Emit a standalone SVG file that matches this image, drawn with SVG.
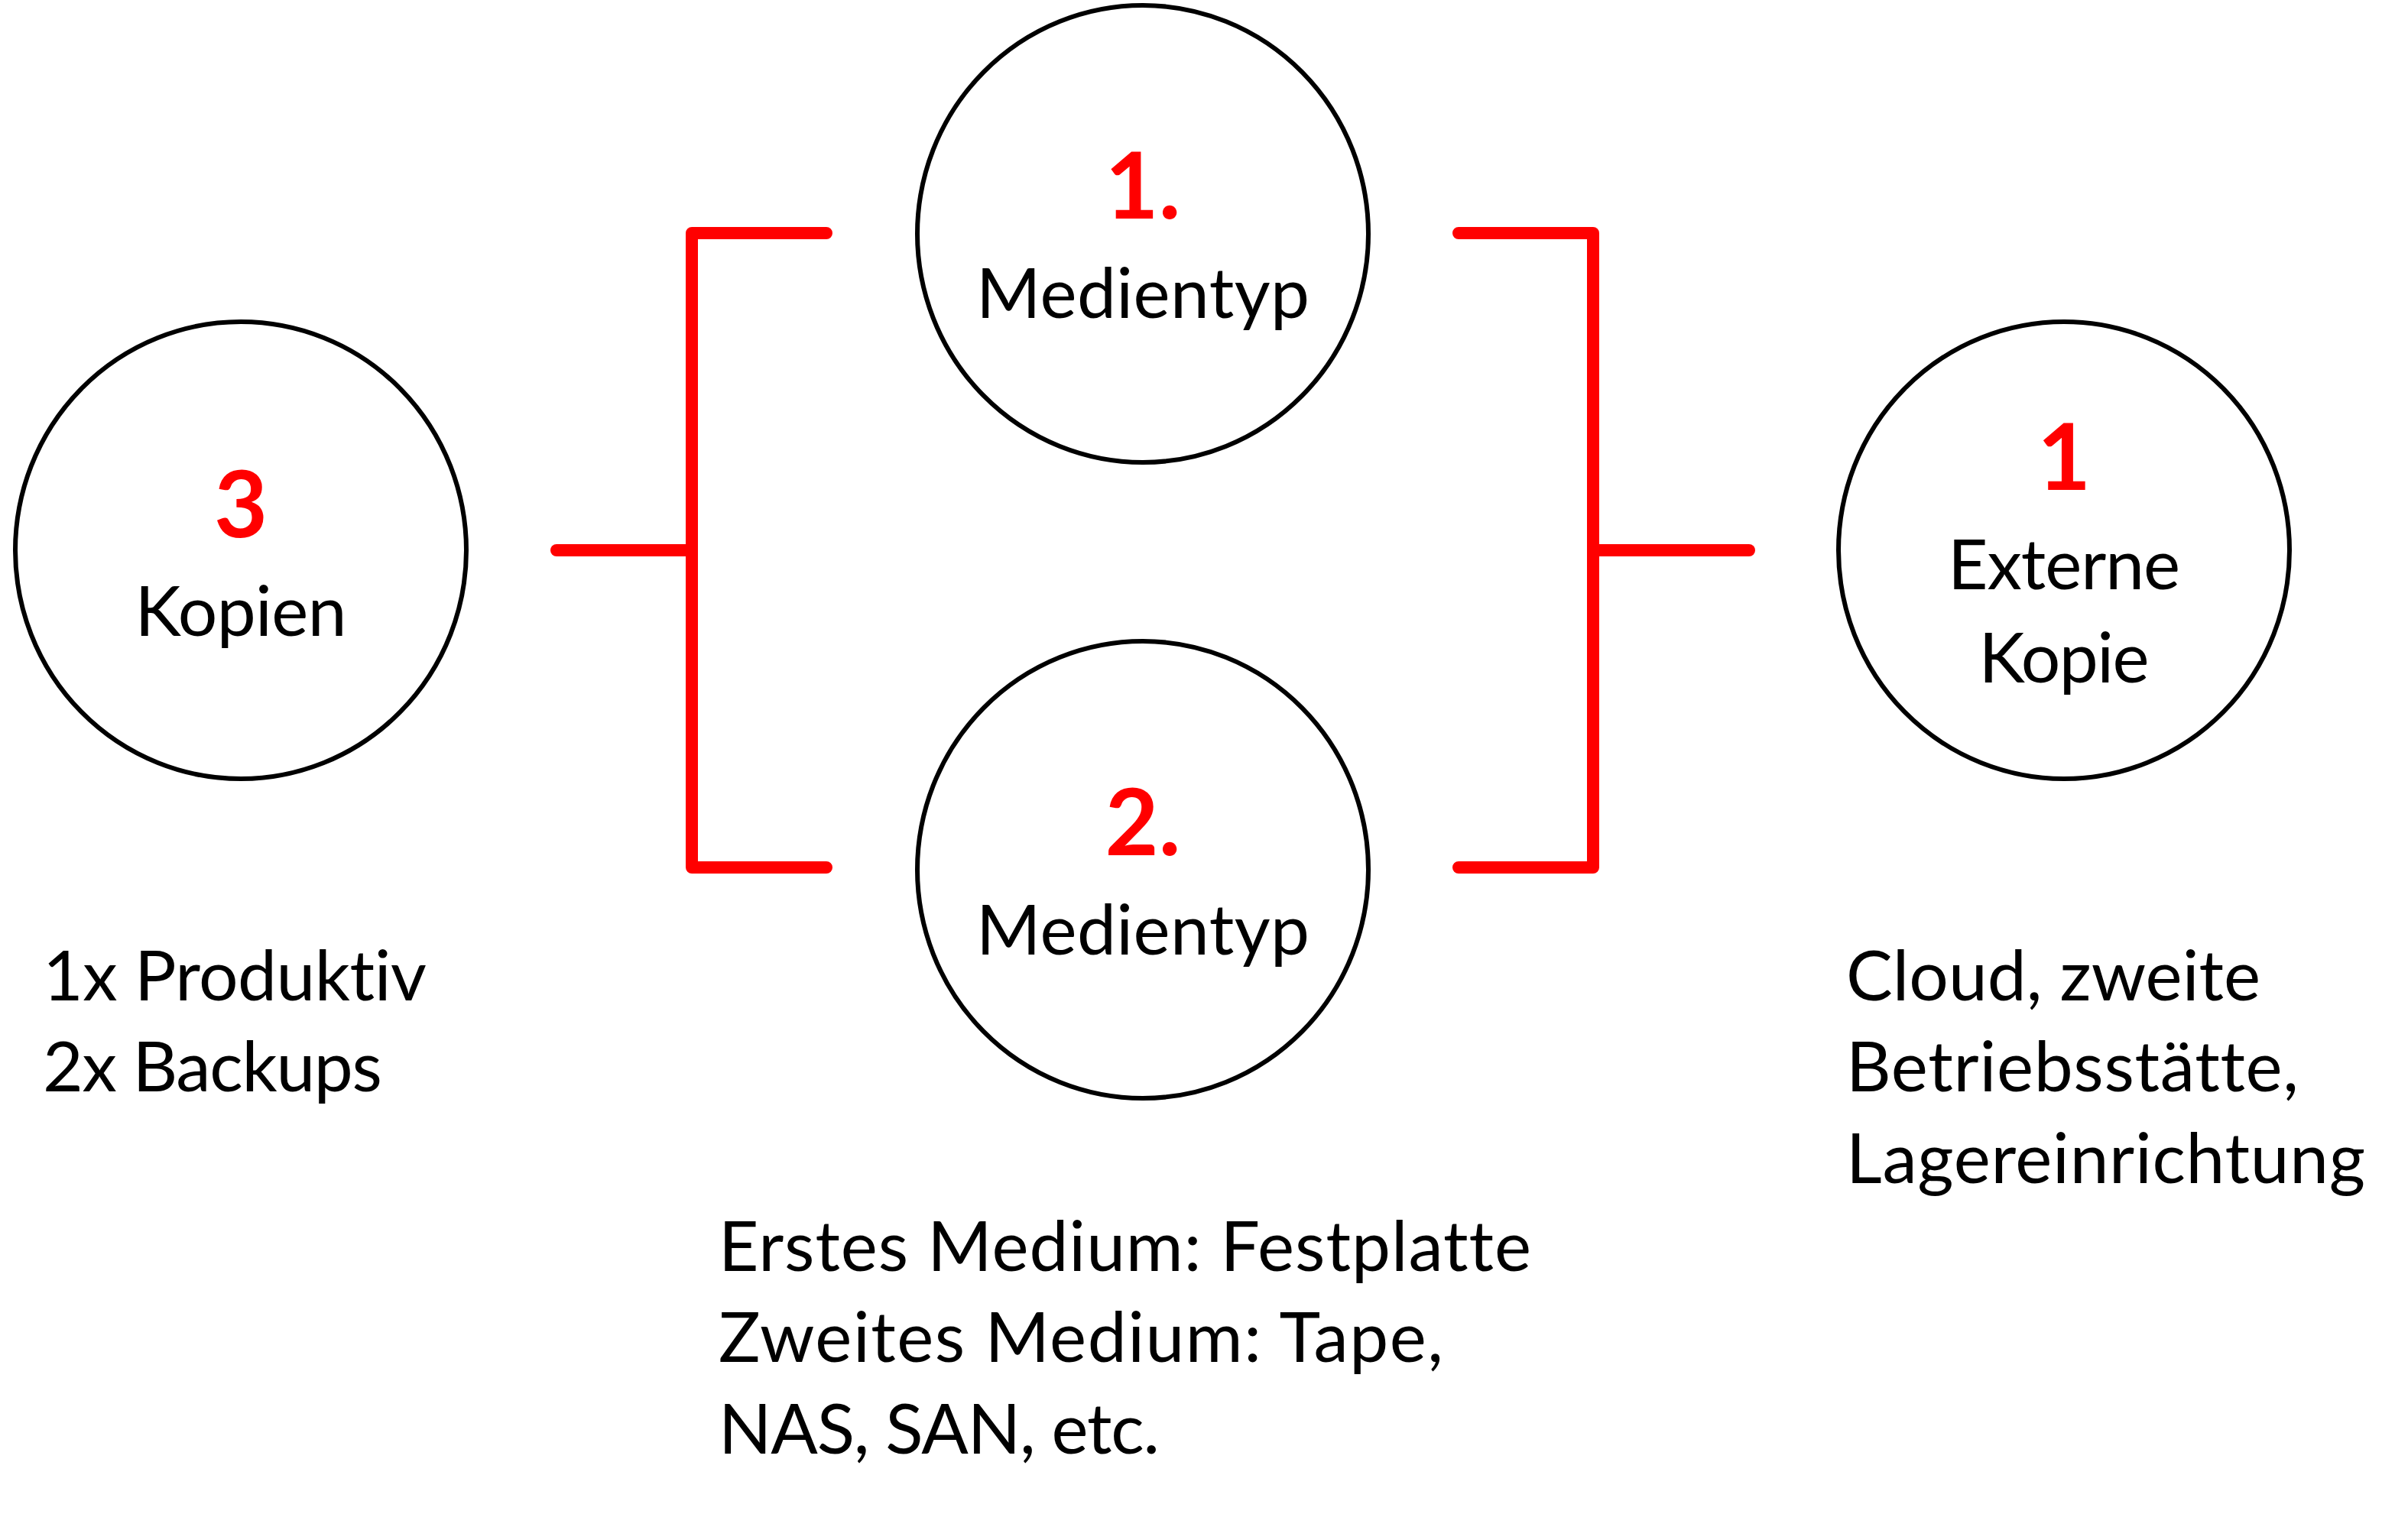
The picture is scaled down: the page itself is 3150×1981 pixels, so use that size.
<svg xmlns="http://www.w3.org/2000/svg" width="3150" height="1981" viewBox="0 0 3150 1981">
<style>
text{font-variant-ligatures:none;font-feature-settings:"liga" 0,"clig" 0}
.node{fill:#fff;stroke:#000;stroke-width:6}
.num{font-family:Lato,"Open Sans","Liberation Sans",sans-serif;font-weight:700;font-size:121px;fill:#ff0000;text-anchor:middle}
.lbl{font-family:Lato,"Open Sans","Liberation Sans",sans-serif;font-size:91px;fill:#000;text-anchor:middle}
.txt{font-family:Lato,"Open Sans","Liberation Sans",sans-serif;font-size:91px;fill:#000}
.br{fill:none;stroke:#ff0000;stroke-width:16;stroke-linecap:round;stroke-linejoin:round}
</style>
<rect width="3150" height="1981" fill="#fff"/>
<g id="connectors">
<path class="br" d="M728 720 H905"/>
<path class="br" d="M1081 305 H905 V1135 H1081"/>
<path class="br" d="M1908 305 H2084 V1135 H1908"/>
<path class="br" d="M2084 720 H2288"/>
</g>
<g id="node-kopien">
<ellipse class="node" cx="315" cy="720" rx="295" ry="299"/>
<text class="num" x="315" y="703">3</text>
<text class="lbl" x="315" y="832" textLength="277" lengthAdjust="spacing">Kopien</text>
</g>
<g id="node-medientyp1">
<ellipse class="node" cx="1495" cy="306" rx="295" ry="299"/>
<text class="num" x="1495" y="286">1.</text>
<text class="lbl" x="1495" y="416" textLength="436" lengthAdjust="spacing">Medientyp</text>
</g>
<g id="node-medientyp2">
<ellipse class="node" cx="1495" cy="1138" rx="295" ry="299"/>
<text class="num" x="1495" y="1119">2.</text>
<text class="lbl" x="1495" y="1249" textLength="436" lengthAdjust="spacing">Medientyp</text>
</g>
<g id="node-extern">
<ellipse class="node" cx="2700" cy="720" rx="295" ry="299"/>
<text class="num" x="2700" y="641">1</text>
<text class="lbl" x="2700" y="771" textLength="304" lengthAdjust="spacing">Externe</text>
<text class="lbl" x="2700" y="893" textLength="223" lengthAdjust="spacing">Kopie</text>
</g>
<g id="text-kopien">
<text class="txt" x="56" y="1309" textLength="502" lengthAdjust="spacing">1x Produktiv</text>
<text class="txt" x="56" y="1428" textLength="444" lengthAdjust="spacing">2x Backups</text>
</g>
<g id="text-medien">
<text class="txt" x="940" y="1663" textLength="1063" lengthAdjust="spacing">Erstes Medium: Festplatte</text>
<text class="txt" x="940" y="1782" textLength="948" lengthAdjust="spacing">Zweites Medium: Tape,</text>
<text class="txt" x="940" y="1902" textLength="577" lengthAdjust="spacing">NAS, SAN, etc.</text>
</g>
<g id="text-extern">
<text class="txt" x="2415" y="1309" textLength="542" lengthAdjust="spacing">Cloud, zweite</text>
<text class="txt" x="2415" y="1428" textLength="592" lengthAdjust="spacing">Betriebsstätte,</text>
<text class="txt" x="2415" y="1548" textLength="679" lengthAdjust="spacing">Lagereinrichtung</text>
</g>
</svg>
